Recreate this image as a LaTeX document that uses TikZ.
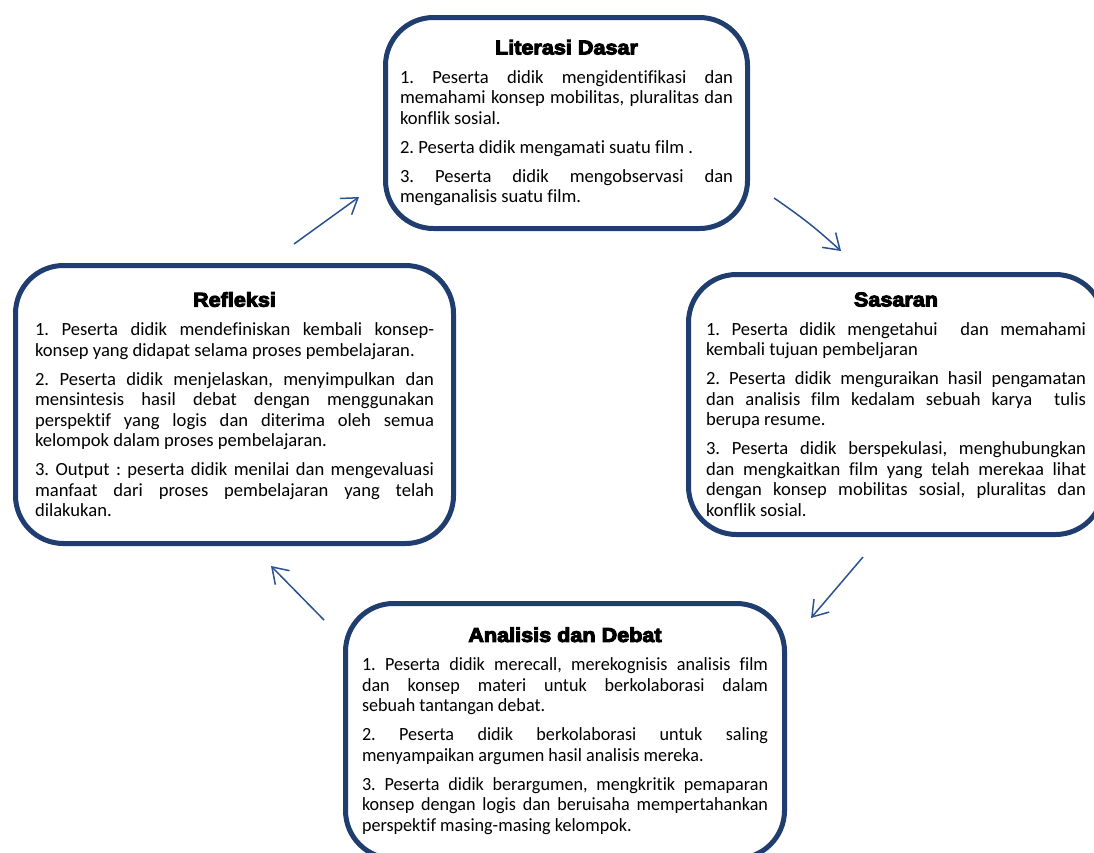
\documentclass[tikz,border=0pt]{standalone}
\usepackage{fontspec}
\setmainfont{Carlito}[Ligatures=NoCommon]
\newfontfamily\judulfont[FakeBold=5,FakeStretch=1.08]{Liberation Sans}
\usetikzlibrary{arrows.meta,positioning}
\definecolor{navy}{HTML}{1F3D6E}
\definecolor{arrowblue}{HTML}{2B5190}
\newcommand{\judul}[1]{{\centering\judulfont\bfseries\fontsize{20}{20}\selectfont #1\par}}
\frenchspacing

\begin{document}
\begin{tikzpicture}[
      x=1pt, y=-1pt, % pakai koordinat piksel
      kotak/.style={draw=navy, line width=5pt, rounded corners=48pt, fill=white,
        align=justify, inner sep=0pt, font=\fontsize{18.6}{20.5}\selectfont,
        execute at begin node={\setlength{\parskip}{8.5pt}\setlength{\parindent}{0pt}}},
      panah/.style={draw=arrowblue, line width=1.5pt, -{Straight Barb[length=15pt,width=20pt]}}
    ]
\useasboundingbox (0,0) rectangle (1094,852);
\clip (0,0) rectangle (1094,852);

% kotak atas
\node[kotak, minimum width=362pt, minimum height=211pt, text width=333pt] (lit) at (566.5,123) {%
  \judul{Literasi Dasar}
  1. Peserta didik mengidentifikasi dan\linebreak
  memahami konsep mobilitas, pluralitas dan\linebreak
  konflik sosial.\par
  2. Peserta didik mengamati suatu film .\par
  3. Peserta didik mengobservasi dan\linebreak
  menganalisis suatu film.};

% kotak kanan
\node[kotak, minimum width=415pt, minimum height=260pt, text width=380pt] (sas) at (896,404.5) {%
  \judul{Sasaran}
  1. Peserta didik mengetahui \ dan memahami\linebreak
  kembali tujuan pembeljaran\par
  2. Peserta didik menguraikan hasil pengamatan\linebreak
  dan analisis film kedalam sebuah karya \ tulis\linebreak
  berupa resume.\par
  3. Peserta didik berspekulasi, menghubungkan\linebreak
  dan mengkaitkan film yang telah merekaa lihat\linebreak
  dengan konsep mobilitas sosial, pluralitas dan\linebreak
  konflik sosial.};

% kotak bawah, hurufnya sedikit rapat
\node[kotak, minimum width=439pt, minimum height=255pt, text width=406pt] (ana) at (565,731) {%
  \addfontfeature{FakeStretch=0.975}%
  \judul{Analisis dan Debat}
  1. Peserta didik merecall, merekognisis analisis film\linebreak
  dan konsep materi untuk berkolaborasi dalam\linebreak
  sebuah tantangan debat.\par
  2. Peserta didik berkolaborasi untuk saling\linebreak
  menyampaikan argumen hasil analisis mereka.\par
  3. Peserta didik berargumen, mengkritik pemaparan\linebreak
  konsep dengan logis dan beruisaha mempertahankan\linebreak
  perspektif masing-masing kelompok.};

% kotak kiri
\node[kotak, minimum width=438pt, minimum height=278pt, text width=399pt] (ref) at (234.5,404.5) {%
  \judul{Refleksi}
  1. Peserta didik mendefiniskan kembali konsep-\linebreak
  konsep yang didapat selama proses pembelajaran.\par
  2. Peserta didik menjelaskan, menyimpulkan dan\linebreak
  mensintesis hasil debat dengan menggunakan\linebreak
  perspektif yang logis dan diterima oleh semua\linebreak
  kelompok dalam proses pembelajaran.\par
  3. Output : peserta didik menilai dan mengevaluasi\linebreak
  manfaat dari proses pembelajaran yang telah\linebreak
  dilakukan.};

% panah siklus
\coordinate (p1a) at (294,244);
\coordinate (p1b) at (359,197);
\coordinate (p2a) at (774,198);
\coordinate (p2b) at (841,251);
\coordinate (p3a) at (863,557);
\coordinate (p3b) at (811,618);
\coordinate (p4a) at (324,620);
\coordinate (p4b) at (271,566);
\draw[panah] (p1a) -- (p1b);
\draw[panah] (p2a) to[bend left=4] (p2b);
\draw[panah] (p3a) -- (p3b);
\draw[panah] (p4a) -- (p4b);
\end{tikzpicture}
\end{document}
